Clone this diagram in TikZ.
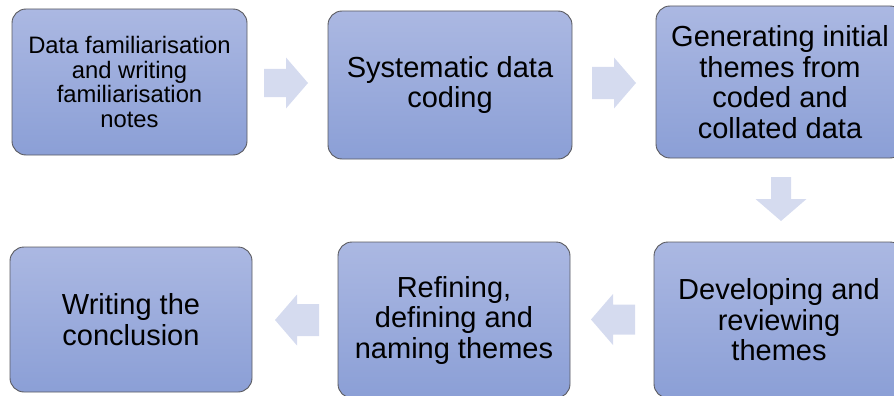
\documentclass[tikz,border=0pt]{standalone}
\usepackage{fontspec}
\setmainfont{Liberation Sans}
\definecolor{boxtop}{RGB}{171,184,226}
\definecolor{boxbot}{RGB}{139,159,214}
\definecolor{boxline}{RGB}{90,90,95}
\definecolor{arrowfill}{RGB}{213,219,239}
\tikzset{
  stagebox/.style={draw=boxline, line width=0.9pt, rounded corners=14pt,
    top color=boxtop, bottom color=boxbot, align=center, inner sep=0pt,
    text=black, font=\fontsize{29}{30.5}\selectfont},
  smallbox/.style={stagebox, font=\fontsize{23.8}{24.6}\selectfont},
  blockarrow/.style={fill=arrowfill, draw=none}
}
\newcommand{\blockarr}[4]{% x, y, angle, shaft half-width
  \begin{scope}[shift={(#1,#2)}, rotate=#3]
    \fill[blockarrow] (-22,-#4) -- (0,-#4) -- (0,-25.5) -- (22,0) -- (0,25.5) -- (0,#4) -- (-22,#4) -- cycle;
  \end{scope}}
\begin{document}
\begin{tikzpicture}[x=1pt,y=-1pt]
\useasboundingbox (0,0) rectangle (894,396);
\clip (0,0) rectangle (894,396);
\node[smallbox, minimum width=235pt, minimum height=146pt] (b1) at (129.5,82)
  {Data familiarisation\\and writing\\familiarisation\\notes};
\node[stagebox, minimum width=244pt, minimum height=148pt] (b2) at (450,85)
  {Systematic data\\coding};
\node[stagebox, minimum width=248pt, minimum height=152pt] (b3) at (780,82)
  {Generating initial\\themes from\\coded and\\collated data};
\node[stagebox, minimum width=250pt, minimum height=156pt] (b6) at (779,320)
  {Developing and\\reviewing\\themes};
\node[stagebox, minimum width=232pt, minimum height=156pt] (b5) at (454,320)
  {Refining,\\defining and\\naming themes};
\node[stagebox, minimum width=242pt, minimum height=145pt] (b4) at (131,319.5)
  {Writing the\\conclusion};
\blockarr{286}{83}{0}{14}
\blockarr{614}{83}{0}{16}
\blockarr{781}{199}{-90}{10}
\blockarr{613}{319.5}{180}{15}
\blockarr{297}{320}{180}{16}
\end{tikzpicture}
\end{document}
